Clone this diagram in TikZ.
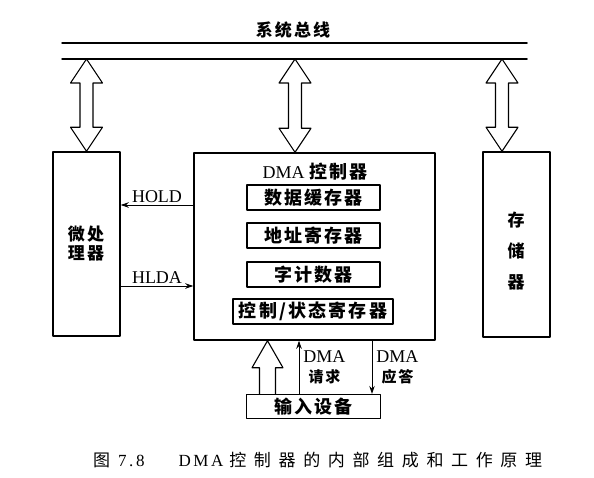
\documentclass[tikz,border=0pt]{standalone}
\usepackage{fontspec}
\setmainfont{Liberation Serif}
\newfontfamily\cjk{Noto Sans CJK SC}[LetterSpace=12]
\newfontfamily\cjkwide{Noto Sans CJK SC}[LetterSpace=45]
\newfontfamily\capserif{Liberation Serif}[LetterSpace=15]
\usepackage{tikz}
\usetikzlibrary{calc,arrows.meta,positioning}

% kettos ures nyil a busz es az egysegek kozott
\newcommand{\dblarrow}[2]{%
  \draw[arrowline] let \p1=(#1), \p2=(#2) in
    (\x1,\y1) -- (\x1+16pt,\y1-24pt) -- (\x1+6.5pt,\y1-24pt)
    -- (\x1+6.5pt,\y2+24pt) -- (\x1+16pt,\y2+24pt) -- (\x1,\y2)
    -- (\x1-16pt,\y2+24pt) -- (\x1-6.5pt,\y2+24pt)
    -- (\x1-6.5pt,\y1-24pt) -- (\x1-16pt,\y1-24pt) -- cycle;}

\begin{document}
\begin{tikzpicture}[x=1pt,y=-1pt,line cap=round,line join=round,
    box/.style={draw,line width=1.5pt,inner sep=0pt},
    reg/.style={draw,line width=1.2pt,inner sep=0pt,minimum width=133pt,minimum height=25pt,
                font=\fontsize{18}{21}\selectfont\cjk\bfseries},
    arrowline/.style={line width=1.1pt},
    sig/.style={line width=0.9pt,-{Stealth[length=8pt,width=5.5pt]}},
    lbl/.style={font=\fontsize{18}{20}\selectfont,align=center,inner sep=2pt}]
    \useasboundingbox (0,0) rectangle (594,477);

    % Rendszerbusz: ket parhuzamos vonal
    \coordinate (busTL) at (62,43);
    \coordinate (busTR) at (527,43);
    \coordinate (busBL) at (62,59);
    \coordinate (busBR) at (527,59);
    \draw[line width=1.5pt] (busTL) -- (busTR);
    \draw[line width=1.5pt] (busBL) -- (busBR);
    \node[lbl,font=\fontsize{17}{19}\selectfont\cjk\bfseries] (buslbl) at (293,30) {系统总线};

    % Egysegek
    \node[box,minimum width=67pt,minimum height=184pt] (cpu) at (86.5,244) {};
    \node[lbl,font=\fontsize{17}{19}\selectfont\cjk\bfseries] (cputxt) at (86,244) {微处\\理器};
    \node[box,minimum width=241pt,minimum height=187pt] (dma) at (314.5,246.5) {};
    \node[box,minimum width=67pt,minimum height=185pt] (mem) at (516.5,244.5) {};
    \node[lbl,font=\fontsize{17}{31}\selectfont\cjk\bfseries] (memtxt) at (516,251) {存\\储\\器};

    % A DMA vezerlo belso regiszterei
    \node[lbl] (dmatxt) at (315,172) {DMA {\cjk\bfseries 控制器}};
    \node[reg] (buf) at (313.5,197.5) {数据缓存器};
    \node[reg] (addr) at (313.5,235.5) {地址寄存器};
    \node[reg] (cnt) at (313.5,274.5) {字计数器};
    \node[reg,minimum width=160pt] (ctrl) at (313,311.5) {控制/状态寄存器};

    % Bemeneti eszkoz
    \node[reg,minimum width=134pt,minimum height=24pt] (dev) at (313.5,406.5) {输入设备};

    % Busz nyilak
    \coordinate (cpuport) at (cpu.north);
    \coordinate (dmaport) at ([xshift=-19.5pt]dma.north);
    \coordinate (memport) at ([xshift=-14.5pt]mem.north);
    \dblarrow{cpuport |- busBL}{cpuport}
    \dblarrow{dmaport |- busBL}{dmaport}
    \dblarrow{memport |- busBL}{memport}

    % HOLD / HLDA jelek
    \coordinate (holdS) at ([yshift=41.5pt]dma.west);
    \draw[sig] (holdS) -- (holdS -| cpu.east) node[lbl,midway,above] {HOLD};
    \coordinate (hldaS) at ([yshift=-42pt]cpu.east);
    \draw[sig] (hldaS) -- (hldaS -| dma.west) node[lbl,midway,above] {HLDA};

    % Adatut az eszkoztol a vezerloig (ures nyil)
    \coordinate (inB) at ([xshift=-46pt]dev.north);
    \coordinate (inT) at (inB |- dma.south);
    \draw[arrowline] let \p1=(inB), \p2=(inT) in
      (\x1-8pt,\y1) -- (\x1-8pt,\y2-27pt) -- (\x1-15.5pt,\y2-27pt) -- (\x2,\y2)
      -- (\x1+15.5pt,\y2-27pt) -- (\x1+8pt,\y2-27pt) -- (\x1+8pt,\y1);

    % DMA keres es valasz
    \coordinate (reqB) at ([xshift=-14.5pt]dev.north);
    \draw[sig] (reqB) -- (reqB |- dma.south)
      node[lbl,midway,right=2pt] {DMA\\{\fontsize{15}{20}\selectfont\cjk\bfseries 请求}};
    \coordinate (ackT) at ([xshift=58.5pt]dev.north |- dma.south);
    \draw[sig] (ackT) -- (ackT |- dev.north)
      node[lbl,midway,right=2pt] {DMA\\{\fontsize{15}{20}\selectfont\cjk\bfseries 应答}};

    % Abrafelirat
    \node[font=\fontsize{17}{19}\selectfont,anchor=west,inner sep=0pt] (caption) at (93,460)
      {{\cjkwide 图}\hspace{8pt}{\capserif 7.8}\hspace{34pt}{\capserif DMA}\hspace{6pt}{\cjkwide 控制器的内部组成和工作原理}};
\end{tikzpicture}
\end{document}
